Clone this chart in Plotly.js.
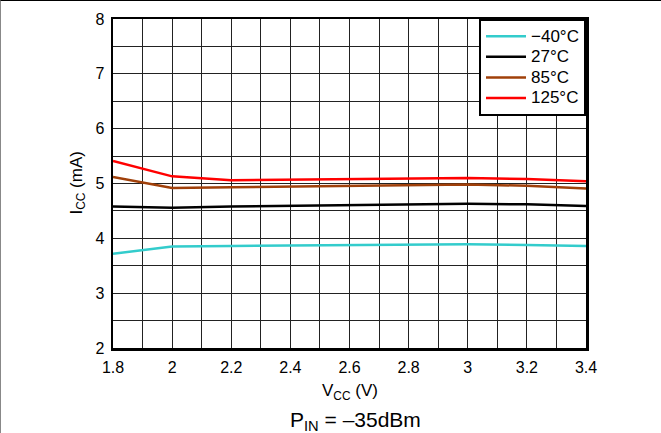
<!DOCTYPE html>
<html>
<head>
<meta charset="utf-8">
<script src="https://cdn.plot.ly/plotly-3.0.1.min.js"></script>
<style>
html,body{margin:0;padding:0;background:#fff;}
#wrap{position:relative;width:661px;height:433px;}
#chart{width:661px;height:433px;}
#frame{position:absolute;left:0;top:0;width:661px;height:433px;border-top:1px solid #000;border-left:1px solid #888;box-sizing:border-box;pointer-events:none;}
</style>
</head>
<body>
<div id="wrap"><div id="chart"></div><div id="frame"></div></div>
<script>
const vcc = [1.8, 2.0, 2.2, 2.4, 2.6, 2.8, 3.0, 3.2, 3.4];
const icc_m40 = [3.72, 3.85, 3.86, 3.87, 3.88, 3.88, 3.89, 3.88, 3.86];
const icc_27  = [4.58, 4.56, 4.58, 4.59, 4.60, 4.61, 4.63, 4.62, 4.59];
const icc_85  = [5.12, 4.92, 4.93, 4.94, 4.95, 4.96, 4.98, 4.96, 4.91];
const icc_125 = [5.41, 5.13, 5.06, 5.07, 5.08, 5.09, 5.10, 5.08, 5.04];
const seriesNames = ['\u221240\u00B0C', '27\u00B0C', '85\u00B0C', '125\u00B0C'];
const seriesColors = ['#33CCCC', '#000000', '#A0400A', '#FF0000'];
const seriesData = [icc_m40, icc_27, icc_85, icc_125];

const traces = seriesData.map((y, i) => ({
  x: vcc, y: y, type: 'scatter', mode: 'lines',
  name: '<span style="font-size:17px">' + seriesNames[i] + '</span>',
  line: {color: seriesColors[i], width: 2.5}
}));

const fam = 'Liberation Sans, Arial, sans-serif';
const font = {family: fam, size: 16, color: '#000'};

const layout = {
  width: 661, height: 433,
  margin: {l: 113, r: 75, t: 19, b: 85},
  paper_bgcolor: '#fff', plot_bgcolor: '#fff',
  font: font,
  showlegend: true,
  legend: {x: 1, xanchor: 'right', y: 1, yanchor: 'top', bgcolor: '#fff',
           bordercolor: '#000', borderwidth: 2, font: {family: fam, size: 13.5, color: '#000'},
           tracegroupgap: 0, itemwidth: 40},
  xaxis: {
    range: [1.8, 3.4], dtick: 0.2, tick0: 1.8,
    showgrid: true, gridcolor: '#222', gridwidth: 1,
    minor: {dtick: 0.1, showgrid: true, gridcolor: '#222', gridwidth: 1},
    showline: true, linecolor: '#000', linewidth: 2.5, mirror: true,
    ticks: 'outside', ticklen: 3, tickcolor: 'rgba(0,0,0,0)',
    zeroline: false, tickfont: font
  },
  yaxis: {
    range: [2, 8], dtick: 1, tick0: 2,
    showgrid: true, gridcolor: '#222', gridwidth: 1,
    minor: {dtick: 0.5, showgrid: true, gridcolor: '#222', gridwidth: 1},
    showline: true, linecolor: '#000', linewidth: 2.5, mirror: true,
    ticks: 'outside', ticklen: 3, tickcolor: 'rgba(0,0,0,0)',
    zeroline: false, tickfont: font
  },
  annotations: [
    {text: 'V<sub>CC</sub> (V)', xref: 'paper', yref: 'paper', x: 0.5, y: -0.135,
     xanchor: 'center', yanchor: 'middle', showarrow: false, font: {family: fam, size: 17, color: '#000'}},
    {text: 'I<sub>CC</sub> (mA)', xref: 'paper', yref: 'paper', x: -0.076, y: 0.5,
     xanchor: 'center', yanchor: 'middle', textangle: -90, showarrow: false, font: {family: fam, size: 17, color: '#000'}},
    {text: 'P<sub>IN</sub> = \u201335dBm', xref: 'paper', yref: 'paper', x: 0.512, y: -0.222,
     xanchor: 'center', yanchor: 'middle', showarrow: false, font: {family: fam, size: 21, color: '#000'}}
  ]
};

Plotly.newPlot('chart', traces, layout, {displayModeBar: false, staticPlot: true});
</script>
</body>
</html>
